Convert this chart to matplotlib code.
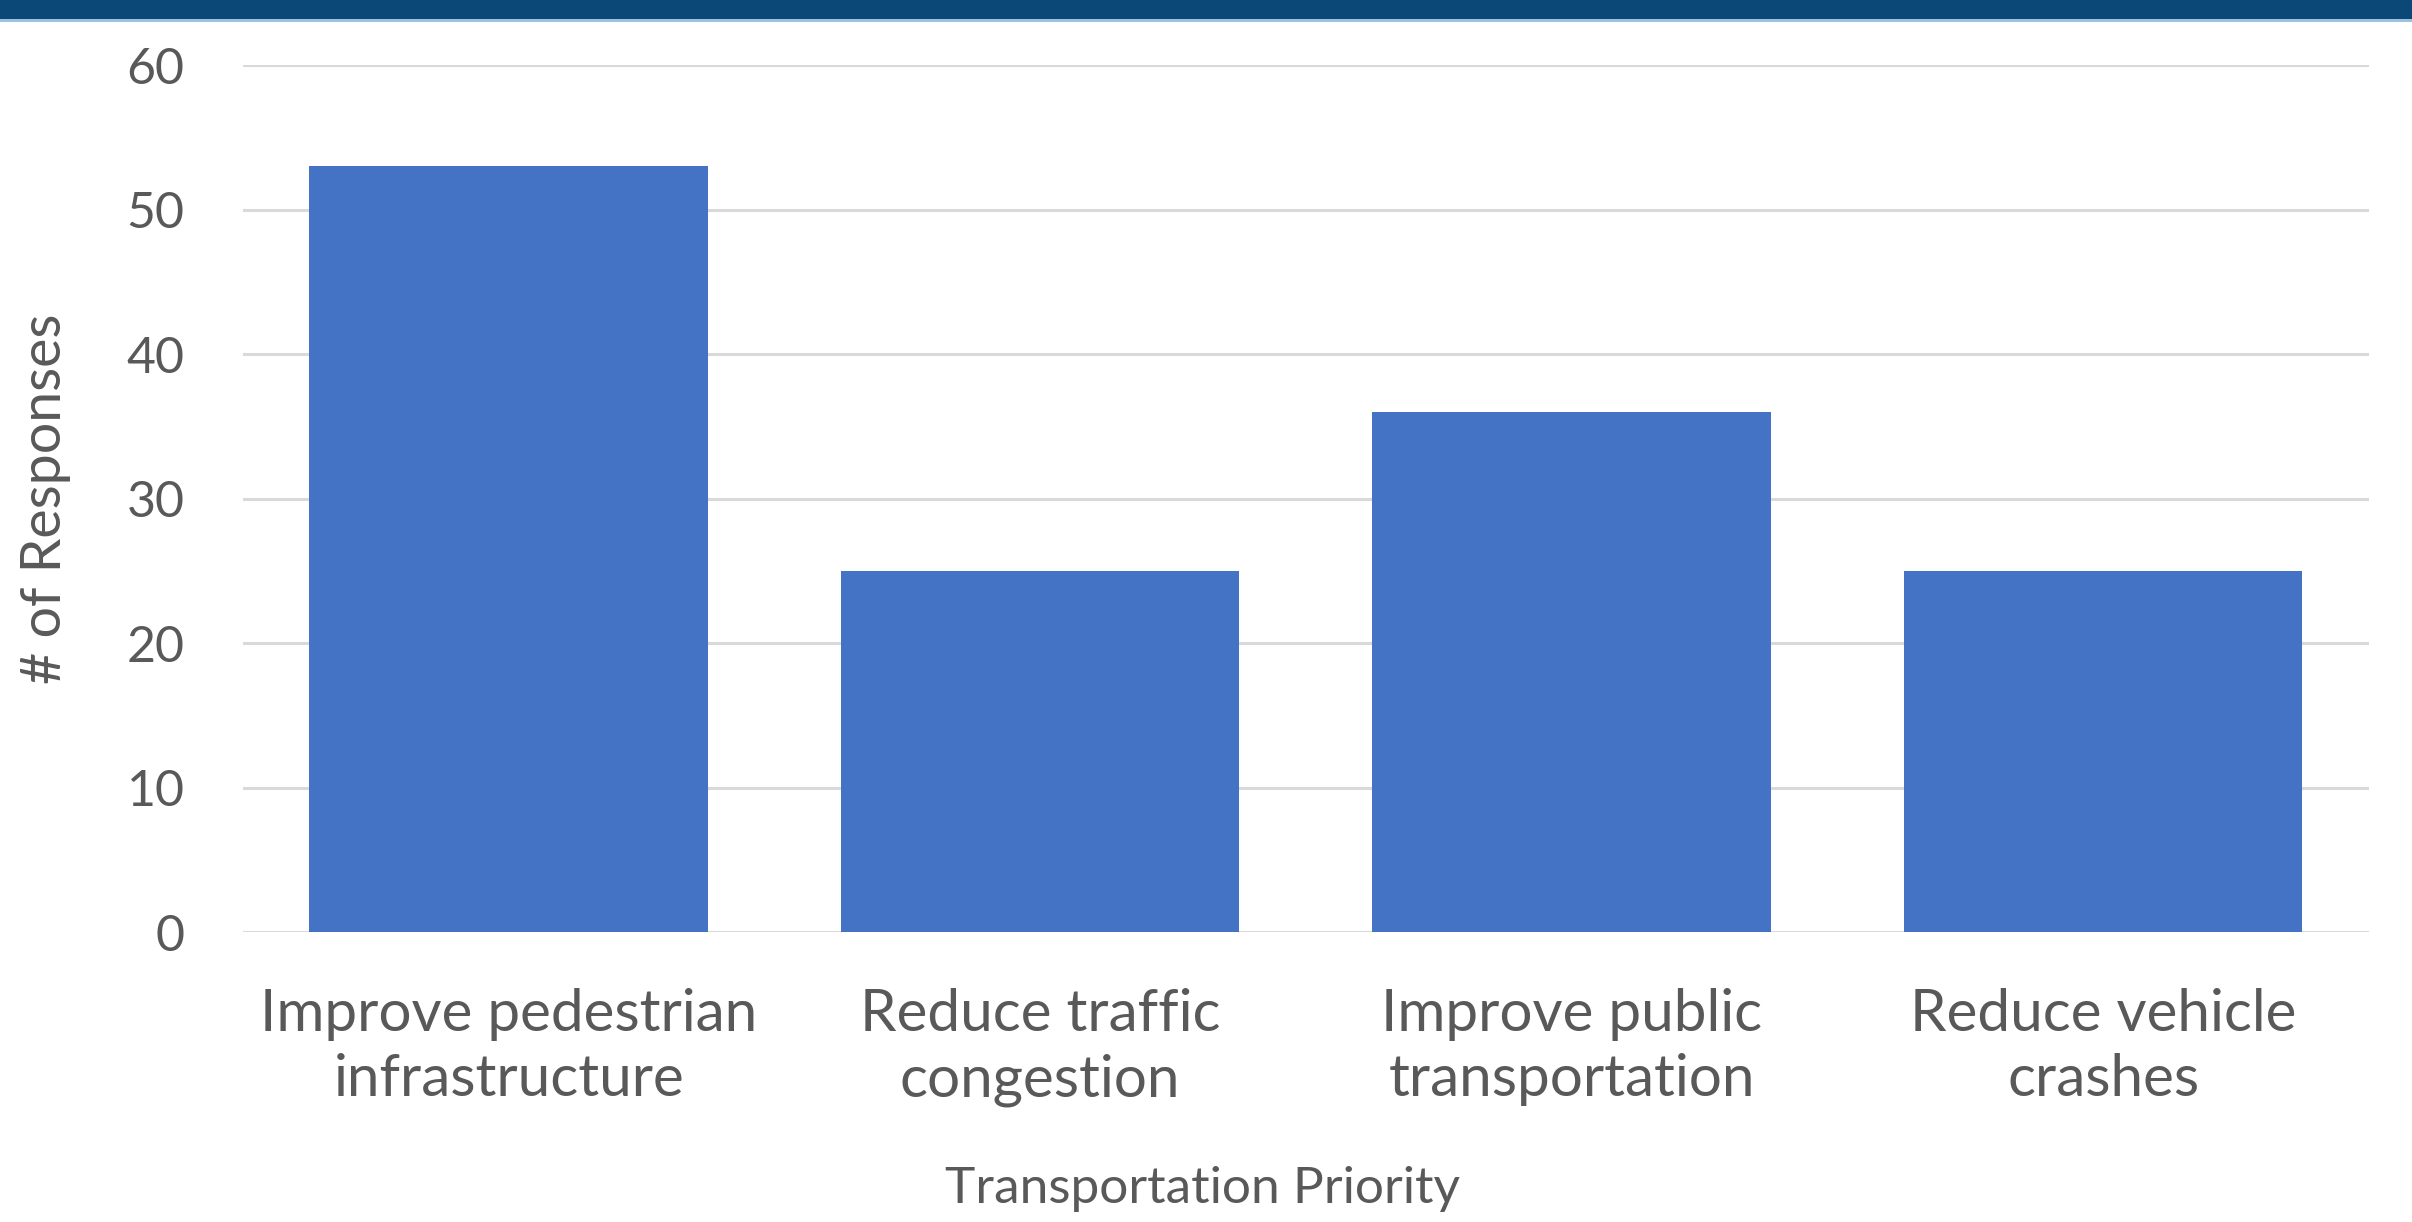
import matplotlib.pyplot as plt
import matplotlib.patches as mpatches

categories = ["Improve pedestrian\ninfrastructure", "Reduce traffic\ncongestion",
              "Improve public\ntransportation", "Reduce vehicle\ncrashes"]
responses = [53, 25, 36, 25]
yticks = [0, 10, 20, 30, 40, 50, 60]

plt.rcParams['font.family'] = ['Lato', 'DejaVu Sans']
text_color = '#595959'

fig = plt.figure(figsize=(24.12, 12.22), dpi=100)
ax = fig.add_axes([0.1007, 0.2373, 0.8814, 0.7095])

# dark banner along the top edge
fig.patches.append(mpatches.Rectangle((0, 1 - 19/1222), 1, 19/1222, transform=fig.transFigure,
                                      facecolor='#0b4777', edgecolor='none', zorder=5))
fig.patches.append(mpatches.Rectangle((0, 1 - 22/1222), 1, 3/1222, transform=fig.transFigure,
                                      facecolor='#9cc3dd', edgecolor='none', zorder=5))

x = range(len(categories))
ax.bar(x, responses, width=0.75, color='#4472c4', zorder=3)

ax.set_xlim(-0.5, len(categories) - 0.5)
ax.set_ylim(0, 60)
ax.set_yticks(yticks)
ax.set_xticks(list(x))
ax.set_xticklabels(categories, fontsize=42, color=text_color, linespacing=1.3)
ax.tick_params(axis='y', labelsize=36, labelcolor=text_color, length=0, pad=42)
ax.tick_params(axis='x', length=0, pad=40)

ax.grid(axis='y', color='#d9d9d9', linewidth=2.2, zorder=0)
for s in ax.spines.values():
    s.set_visible(False)

ax.set_ylabel('# of Responses', fontsize=40, color=text_color)
ax.yaxis.set_label_coords(-0.081, 0.5)
ax.yaxis.label.set_ha('center')
ax.set_xlabel('Transportation Priority', fontsize=37, color=text_color)
ax.xaxis.set_label_coords(0.4515, -0.2964)
ax.xaxis.label.set_va('center')

fig.savefig('out.png', dpi=100, facecolor='white')
